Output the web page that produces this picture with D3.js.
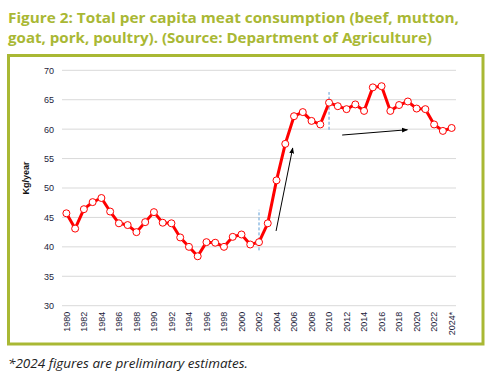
<!DOCTYPE html>
<html>
<head>
<meta charset="utf-8">
<script src="https://cdn.jsdelivr.net/npm/d3@7"></script>
<style>
  body { margin: 0; background: #fff; }
  svg { display: block; }
</style>
</head>
<body>
<div id="chart"></div>
<script>
// Data
var years = d3.range(1980, 2025);
var yearLabels = years.map(function(y) { return y === 2024 ? "2024*" : String(y); });
var consumption = [
  45.7, 43.1, 46.4, 47.6, 48.3, 46.0, 44.0, 43.7, 42.5, 44.2,
  45.9, 44.1, 44.0, 41.6, 40.0, 38.4, 40.8, 40.7, 40.0, 41.7,
  42.1, 40.4, 40.8, 44.0, 51.3, 57.5, 62.2, 62.9, 61.4, 60.8,
  64.5, 63.9, 63.4, 64.2, 63.1, 67.1, 67.3, 63.1, 64.1, 64.7,
  63.5, 63.4, 60.8, 59.7, 60.2
];
var yTicks = [30, 35, 40, 45, 50, 55, 60, 65, 70];

// annotation marks, in (year, value)
var dashedMarks = [
  { year: 2002, from: 39.4, to: 46.3 },
  { year: 2010, from: 59.9, to: 66.3 }
];
var arrows = [
  { x1: 2003.95, y1: 42.7, x2: 2005.85, y2: 56.8 },
  { x1: 2011.5, y1: 59.0, x2: 2018.95, y2: 59.9 }
];

function init() {
  var W = 492, H = 376;
  var olive = "#a9b834";

  var svg = d3.select("#chart").append("svg")
    .attr("width", W)
    .attr("height", H);

  // title
  var title = svg.append("g")
    .attr("font-family", "'Open Sans', sans-serif")
    .attr("font-weight", "bold")
    .attr("font-size", 15)
    .attr("fill", olive);
  title.append("text").attr("x", 8).attr("y", 22.5)
    .attr("textLength", 451).attr("lengthAdjust", "spacingAndGlyphs")
    .text("Figure 2: Total per capita meat consumption (beef, mutton,");
  title.append("text").attr("x", 8).attr("y", 42.5)
    .attr("textLength", 424).attr("lengthAdjust", "spacingAndGlyphs")
    .text("goat, pork, poultry). (Source: Department of Agriculture)");

  // frame
  svg.append("rect")
    .attr("x", 8.5).attr("y", 55.5)
    .attr("width", 474.5).attr("height", 288.5)
    .attr("fill", "none")
    .attr("stroke", olive)
    .attr("stroke-width", 3);

  // footnote
  svg.append("text")
    .attr("x", 8).attr("y", 368)
    .attr("font-family", "'Open Sans', sans-serif")
    .attr("font-style", "italic")
    .attr("font-size", 12.5)
    .attr("fill", "#222")
    .attr("textLength", 240).attr("lengthAdjust", "spacingAndGlyphs")
    .text("*2024 figures are preliminary estimates.");

  // plot area
  var pLeft = 62, pRight = 456, pTop = 70.3, pBottom = 305.7;

  var x = d3.scaleBand()
    .domain(years)
    .range([pLeft, pRight]);

  var cx = function(yr) { return x(yr) + x.bandwidth() / 2; };
  var xYear = function(v) { return cx(Math.floor(v)) + (v - Math.floor(v)) * x.step(); };

  var y = d3.scaleLinear()
    .domain([30, 70])
    .range([pBottom, pTop]);

  // gridlines
  svg.append("g")
    .selectAll("line")
    .data(yTicks)
    .join("line")
    .attr("x1", pLeft).attr("x2", pRight)
    .attr("y1", function(d) { return y(d); })
    .attr("y2", function(d) { return y(d); })
    .attr("stroke", "#d9d9d9")
    .attr("stroke-width", 1);

  // y axis
  var yAxis = svg.append("g")
    .attr("transform", "translate(" + (pLeft - 8) + ",0)")
    .call(d3.axisLeft(y).tickValues(yTicks).tickSize(0).tickPadding(0));
  yAxis.select(".domain").remove();
  yAxis.selectAll("text")
    .attr("font-family", "'Liberation Sans', sans-serif")
    .attr("font-size", 9)
    .attr("fill", "#1d1d3b");

  // x axis
  var xAxis = svg.append("g")
    .attr("transform", "translate(0," + pBottom + ")")
    .call(d3.axisBottom(x)
      .tickValues(years.filter(function(d) { return d % 2 === 0; }))
      .tickFormat(function(d) { return yearLabels[years.indexOf(d)]; })
      .tickSize(0));
  xAxis.select(".domain").remove();
  xAxis.selectAll("text")
    .attr("font-family", "'Liberation Sans', sans-serif")
    .attr("font-size", 9)
    .attr("fill", "#1d1d3b")
    .attr("transform", "rotate(-90)")
    .attr("text-anchor", "end")
    .attr("x", -6)
    .attr("y", 0)
    .attr("dy", "0.35em");

  // y label
  svg.append("text")
    .attr("transform", "translate(29,178) rotate(-90)")
    .attr("text-anchor", "middle")
    .attr("font-family", "'Liberation Sans', sans-serif")
    .attr("font-weight", "bold")
    .attr("font-size", 9)
    .attr("fill", "#111")
    .text("Kg/year");

  // dashed markers
  svg.append("g")
    .selectAll("line")
    .data(dashedMarks)
    .join("line")
    .attr("x1", function(d) { return xYear(d.year); })
    .attr("x2", function(d) { return xYear(d.year); })
    .attr("y1", function(d) { return y(d.from); })
    .attr("y2", function(d) { return y(d.to); })
    .attr("stroke", "#5b9bd5")
    .attr("stroke-width", 1)
    .attr("stroke-dasharray", "3 2");

  // the line
  var line = d3.line()
    .x(function(d, i) { return cx(years[i]); })
    .y(function(d) { return y(d); });

  svg.append("path")
    .datum(consumption)
    .attr("d", line)
    .attr("fill", "none")
    .attr("stroke", "#ff0000")
    .attr("stroke-width", 3)
    .attr("stroke-linejoin", "round");

  svg.append("g")
    .selectAll("circle")
    .data(consumption)
    .join("circle")
    .attr("cx", function(d, i) { return cx(years[i]); })
    .attr("cy", function(d) { return y(d); })
    .attr("r", 3.5)
    .attr("fill", "#fff")
    .attr("stroke", "#ff0000")
    .attr("stroke-width", 1);

  // arrows
  svg.append("defs").append("marker")
    .attr("id", "arrowhead")
    .attr("viewBox", "0 0 10 10")
    .attr("refX", 9).attr("refY", 5)
    .attr("markerWidth", 6).attr("markerHeight", 6)
    .attr("orient", "auto")
    .append("path")
    .attr("d", "M0,1 L10,5 L0,9 Z")
    .attr("fill", "#000");

  svg.append("g")
    .selectAll("line")
    .data(arrows)
    .join("line")
    .attr("x1", function(d) { return xYear(d.x1); })
    .attr("y1", function(d) { return y(d.y1); })
    .attr("x2", function(d) { return xYear(d.x2); })
    .attr("y2", function(d) { return y(d.y2); })
    .attr("stroke", "#000")
    .attr("stroke-width", 1)
    .attr("marker-end", "url(#arrowhead)");
}

init();
</script>
</body>
</html>
